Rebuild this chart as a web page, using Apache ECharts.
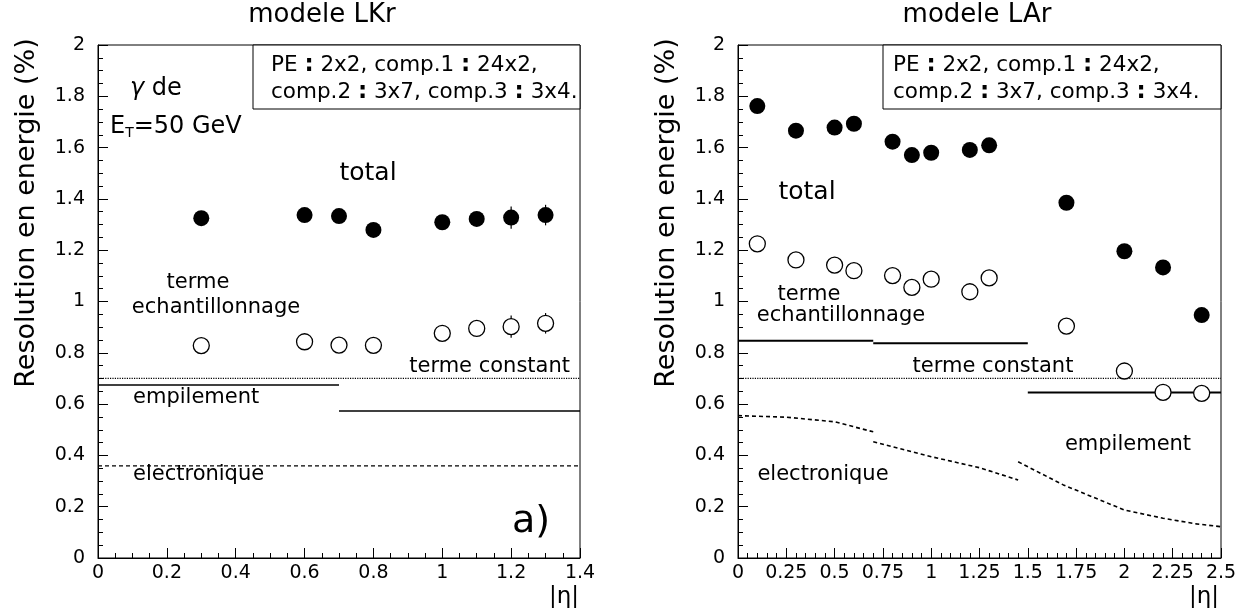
<!DOCTYPE html>
<html><head><meta charset="utf-8">
<script src="https://cdn.jsdelivr.net/npm/echarts@6/dist/echarts.min.js"></script>
<style>html,body{margin:0;padding:0;background:#fff}#c{width:1245px;height:615px}</style>
</head><body><div id="c"></div>
<script>
// ---- Left panel (modele LKr) ----
const etaL = [0.3, 0.6, 0.7, 0.8, 1.0, 1.1, 1.2, 1.3];
const totalL = [1.325, 1.337, 1.333, 1.279, 1.309, 1.322, 1.327, 1.337];
const totalErrL = [0.02, 0.02, 0.02, 0.02, 0.02, 0.025, 0.043, 0.04];
const sampL = [0.828, 0.843, 0.830, 0.829, 0.876, 0.895, 0.902, 0.915];
const sampErrL = [0.02, 0.02, 0.02, 0.02, 0.025, 0.03, 0.043, 0.04];
const constL = [[0, 0.70], [1.4, 0.70]];
const pileupL = [[[0, 0.674], [0.7, 0.674]], [[0.7, 0.573], [1.4, 0.573]]];
const elecL = [[[0, 0.359], [1.4, 0.359]]];
const xTicksL = {min: 0, max: 1.4, interval: 0.2};

// ---- Right panel (modele LAr) ----
const etaR = [0.1, 0.3, 0.5, 0.6, 0.8, 0.9, 1.0, 1.2, 1.3, 1.7, 2.0, 2.2, 2.4];
const totalR = [1.762, 1.666, 1.678, 1.693, 1.623, 1.571, 1.580, 1.591, 1.609, 1.385, 1.196, 1.133, 0.947];
const sampR = [1.225, 1.162, 1.142, 1.120, 1.101, 1.055, 1.087, 1.038, 1.092, 0.904, 0.729, 0.646, 0.642];
const constR = [[0, 0.70], [2.5, 0.70]];
const pileupR = [[[0, 0.847], [0.7, 0.847]], [[0.7, 0.837], [1.5, 0.837]], [[1.5, 0.645], [2.5, 0.645]]];
const elecR = [
  [[0, 0.555], [0.25, 0.549], [0.5, 0.531], [0.7, 0.492]],
  [[0.7, 0.453], [1.0, 0.395], [1.25, 0.352], [1.45, 0.304]],
  [[1.45, 0.375], [1.684, 0.285], [2.0, 0.187], [2.2, 0.155], [2.373, 0.133], [2.5, 0.122]]
];
const xTicksR = {min: 0, max: 2.5, interval: 0.25};

const yTicks = {min: 0, max: 2, interval: 0.2};
const titles = ['modele LKr', 'modele LAr'];
const yName = 'Resolution en energie (%)';

const FONT = 'DejaVu Sans';
const zip = (xs, ys) => xs.map((x, i) => [x, ys[i]]);

function xAxis(gi, t, minorSplit) {
  return {
    type: 'value', gridIndex: gi, min: t.min, max: t.max, interval: t.interval,
    axisLine: {onZero: false, lineStyle: {color: '#000', width: 1}},
    axisTick: {inside: true, length: 10, lineStyle: {color: '#000'}},
    minorTick: {show: true, splitNumber: minorSplit, length: 5, lineStyle: {color: '#000'}},
    axisLabel: {color: '#000', fontFamily: FONT, fontSize: 19, margin: 6,
      showMaxLabel: true, showMinLabel: true},
    splitLine: {show: false}
  };
}
function yAxis(gi) {
  return {
    type: 'value', gridIndex: gi, min: yTicks.min, max: yTicks.max, interval: yTicks.interval,
    axisLine: {onZero: false, lineStyle: {color: '#000', width: 1}},
    axisTick: {inside: true, length: 10, lineStyle: {color: '#000'}},
    minorTick: {show: true, splitNumber: 4, length: 5, lineStyle: {color: '#000'}},
    axisLabel: {color: '#000', fontFamily: FONT, fontSize: 19, margin: 13},
    splitLine: {show: false}
  };
}

function errSeries(gi, xs, ys, es) {
  return {
    type: 'custom', xAxisIndex: gi, yAxisIndex: gi, z: 1,
    data: xs.map((x, i) => [x, ys[i] - es[i], ys[i] + es[i]]),
    renderItem: (params, api) => {
      const lo = api.coord([api.value(0), api.value(1)]);
      const hi = api.coord([api.value(0), api.value(2)]);
      return {type: 'line', shape: {x1: lo[0], y1: lo[1], x2: hi[0], y2: hi[1]},
        style: {stroke: '#000', lineWidth: 1.2}};
    }
  };
}
function lineSeries(gi, data, type, width) {
  return {
    type: 'line', xAxisIndex: gi, yAxisIndex: gi, data: data, symbol: 'none', z: 0,
    lineStyle: {color: '#000', width: width, type: type}, animation: false, silent: true
  };
}
function filled(gi, xs, ys) {
  return {type: 'scatter', xAxisIndex: gi, yAxisIndex: gi, data: zip(xs, ys), symbolSize: 16,
    itemStyle: {color: '#000', opacity: 1}, z: 3};
}
function open(gi, xs, ys) {
  return {type: 'scatter', xAxisIndex: gi, yAxisIndex: gi, data: zip(xs, ys), symbolSize: 16,
    itemStyle: {color: '#fff', borderColor: '#000', borderWidth: 1.3, opacity: 1}, z: 3};
}

const series = [];
// left
series.push(lineSeries(0, constL, 'dotted', 1.2));
pileupL.forEach(s => series.push(lineSeries(0, s, 'solid', 1.5)));
elecL.forEach(s => series.push(lineSeries(0, s, [4, 3], 1.3)));
series.push(errSeries(0, etaL, totalL, totalErrL));
series.push(errSeries(0, etaL, sampL, sampErrL));
series.push(filled(0, etaL, totalL));
series.push(open(0, etaL, sampL));
// right
series.push(lineSeries(1, constR, 'dotted', 1.2));
pileupR.forEach(s => series.push(lineSeries(1, s, 'solid', 2)));
elecR.forEach(s => series.push(lineSeries(1, s, [4, 3], 1.6)));
series.push(filled(1, etaR, totalR));
series.push(open(1, etaR, sampR));

function txt(x, y, text, size, align, extra) {
  return Object.assign({type: 'text', x: x, y: y, z: 10,
    style: {text: text, fontFamily: FONT, fontSize: size, fill: '#000',
      align: align || 'left', verticalAlign: 'middle'}}, extra || {});
}
const boldColon = {c: {fontFamily: FONT, fontSize: 23, fontWeight: 'bold'}};
function boxText(x, y, line) {
  return {type: 'text', x: x, y: y, z: 10,
    style: {text: line, rich: boldColon, fontFamily: FONT, fontSize: 21.5, fill: '#000',
      align: 'left', verticalAlign: 'middle'}};
}
const line1 = 'PE {c|:} 2x2, comp.1 {c|:} 24x2,';
const line2 = 'comp.2 {c|:} 3x7, comp.3 {c|:} 3x4.';

const graphic = [
  txt(322, 15, titles[0], 26, 'center'),
  txt(977, 15, titles[1], 26, 'center'),
  {type: 'text', x: 27, y: 213, rotation: Math.PI / 2, z: 10,
    style: {text: yName, fontFamily: FONT, fontSize: 27, fill: '#000', align: 'center', verticalAlign: 'middle'}},
  {type: 'text', x: 667, y: 213, rotation: Math.PI / 2, z: 10,
    style: {text: yName, fontFamily: FONT, fontSize: 27, fill: '#000', align: 'center', verticalAlign: 'middle'}},
  txt(579, 597, '|η|', 23, 'right'),
  txt(1219, 597, '|η|', 23, 'right'),
  // boxes
  {type: 'rect', shape: {x: 253, y: 45, width: 327, height: 64}, z: 9,
    style: {fill: '#fff', stroke: '#000', lineWidth: 1}},
  {type: 'rect', shape: {x: 883, y: 45, width: 338, height: 64}, z: 9,
    style: {fill: '#fff', stroke: '#000', lineWidth: 1}},
  boxText(271, 65, line1), boxText(271, 92, line2),
  boxText(893, 65, line1), boxText(893, 92, line2),
  // left annotations
  {type: 'text', x: 130, y: 89, z: 10, style: {text: '{g|γ} de', rich: {g: {fontFamily: FONT, fontSize: 24, fontStyle: 'italic'}},
    fontFamily: FONT, fontSize: 24, fill: '#000', verticalAlign: 'middle'}},
  {type: 'text', x: 110, y: 127, z: 10, style: {text: 'E{s|T}=50 GeV', rich: {s: {fontFamily: FONT, fontSize: 14, padding: [13, 0, 0, 0]}},
    fontFamily: FONT, fontSize: 24, fill: '#000', verticalAlign: 'middle'}},
  txt(368, 173, 'total', 25, 'center'),
  txt(198, 283, 'terme', 21, 'center'),
  txt(216, 308, 'echantillonnage', 21, 'center'),
  txt(570, 367, 'terme constant', 21, 'right'),
  txt(133, 398, 'empilement', 21, 'left'),
  txt(133, 475, 'electronique', 21, 'left'),
  txt(531, 522, 'a)', 38, 'center'),
  // right annotations
  txt(807, 192, 'total', 25, 'center'),
  txt(809, 295, 'terme', 21, 'center'),
  txt(841, 316, 'echantillonnage', 21, 'center'),
  txt(993, 367, 'terme constant', 21, 'center'),
  txt(1128, 445, 'empilement', 21, 'center'),
  txt(823, 475, 'electronique', 21, 'center')
];

const chart = echarts.init(document.getElementById('c'));
chart.setOption({
  animation: false,
  backgroundColor: '#fff',
  grid: [
    {left: 98, top: 45, width: 482, height: 513, show: true, borderColor: '#000', borderWidth: 1, backgroundColor: 'transparent'},
    {left: 738, top: 45, width: 483, height: 513, show: true, borderColor: '#000', borderWidth: 1, backgroundColor: 'transparent'}
  ],
  xAxis: [xAxis(0, xTicksL, 4), xAxis(1, xTicksR, 5)],
  yAxis: [yAxis(0), yAxis(1)],
  series: series,
  graphic: graphic
});
</script></body></html>
